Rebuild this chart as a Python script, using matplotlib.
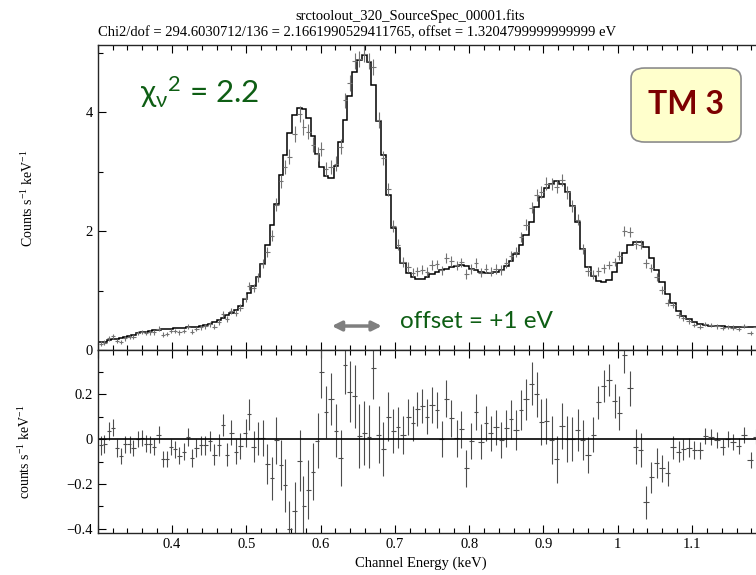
import numpy as np
import matplotlib
matplotlib.use("Agg")
import matplotlib.pyplot as plt
from matplotlib.ticker import MultipleLocator, FuncFormatter
from matplotlib.patches import FancyBboxPatch

# channel energies (keV) of the grouped spectrum
energy_kev = [
    0.304, 0.309, 0.315, 0.321, 0.326, 0.332, 0.337, 0.343, 0.348, 0.354,
    0.360, 0.365, 0.371, 0.376, 0.382, 0.388, 0.393, 0.399, 0.404, 0.410,
    0.416, 0.421, 0.427, 0.433, 0.439, 0.445, 0.451, 0.457, 0.463, 0.469,
    0.474, 0.480, 0.486, 0.492, 0.499, 0.504, 0.510, 0.516, 0.522, 0.528,
    0.535, 0.540, 0.547, 0.552, 0.558, 0.565, 0.572, 0.577, 0.583, 0.590,
    0.596, 0.601, 0.607, 0.614, 0.621, 0.627, 0.633, 0.639, 0.646, 0.652,
    0.659, 0.665, 0.671, 0.678, 0.684, 0.691, 0.698, 0.704, 0.711, 0.718,
    0.725, 0.730, 0.737, 0.743, 0.750, 0.757, 0.763, 0.769, 0.776, 0.783,
    0.789, 0.796, 0.803, 0.809, 0.816, 0.823, 0.829, 0.836, 0.843, 0.850,
    0.856, 0.863, 0.870, 0.876, 0.884, 0.891, 0.897, 0.904, 0.911, 0.918,
    0.925, 0.932, 0.939, 0.946, 0.953, 0.960, 0.967, 0.974, 0.981, 0.988,
    0.996, 1.002, 1.009, 1.017, 1.024, 1.031, 1.038, 1.045, 1.053, 1.059,
    1.067, 1.074, 1.082, 1.088, 1.096, 1.103, 1.111, 1.118, 1.126, 1.133,
    1.141, 1.148, 1.155, 1.163, 1.170, 1.179, 1.186, 1.193,
]

# folded model (counts s^-1 keV^-1)
model_counts = [
    0.13, 0.14, 0.16, 0.18, 0.19, 0.21, 0.22, 0.24, 0.26, 0.28,
    0.30, 0.31, 0.32, 0.33, 0.34, 0.35, 0.355, 0.36, 0.365, 0.37,
    0.375, 0.38, 0.39, 0.395, 0.41, 0.425, 0.44, 0.465, 0.50, 0.545,
    0.585, 0.625, 0.68, 0.74, 0.85, 0.96, 1.08, 1.22, 1.45, 1.76,
    2.10, 2.45, 2.95, 3.28, 3.65, 3.95, 4.07, 4.05, 3.90, 3.60,
    3.30, 3.08, 2.92, 2.90, 3.10, 3.50, 3.87, 4.28, 4.67, 4.88,
    4.96, 4.85, 4.45, 3.85, 3.28, 2.60, 2.05, 1.72, 1.46, 1.30,
    1.23, 1.19, 1.20, 1.22, 1.28, 1.31, 1.34, 1.37, 1.40, 1.42,
    1.43, 1.41, 1.37, 1.34, 1.31, 1.30, 1.29, 1.31, 1.35, 1.42,
    1.50, 1.61, 1.77, 1.93, 2.15, 2.40, 2.58, 2.72, 2.80, 2.84,
    2.80, 2.65, 2.42, 2.15, 1.70, 1.40, 1.25, 1.16, 1.14, 1.17,
    1.31, 1.47, 1.63, 1.76, 1.81, 1.82, 1.74, 1.55, 1.34, 1.14,
    0.95, 0.79, 0.65, 0.58, 0.52, 0.47, 0.44, 0.42, 0.41, 0.40,
    0.40, 0.39, 0.39, 0.38, 0.38, 0.38, 0.38, 0.38,
]

# data minus model
residuals = [
    -0.027, -0.020, 0.037, 0.050, -0.040, -0.075, -0.024, -0.024, -0.040, 0.000,
    0.006, -0.020, -0.024, -0.035, 0.020, -0.090, -0.090, -0.037, -0.045, -0.075,
    -0.056, 0.010, -0.083, -0.040, -0.027, -0.027, -0.010, -0.070, -0.027, 0.062,
    -0.070, 0.028, -0.056, -0.030, 0.025, 0.110, -0.034, 0.003, 0.003, -0.110,
    -0.175, -0.005, -0.115, -0.205, -0.400, -0.320, -0.096, -0.300, -0.225, -0.145,
    -0.007, 0.300, 0.120, 0.177, 0.037, -0.083, 0.330, 0.210, 0.190, 0.015,
    0.025, 0.010, 0.315, 0.020, -0.046, 0.100, 0.037, 0.052, 0.018, 0.100,
    0.070, 0.133, 0.147, 0.100, 0.150, 0.129, 0.000, 0.180, 0.092, 0.003,
    0.043, -0.130, -0.007, 0.120, -0.012, 0.070, 0.025, 0.052, -0.004, 0.047,
    0.087, 0.040, 0.129, 0.176, 0.247, 0.200, 0.077, 0.080, -0.004, -0.090,
    0.058, 0.000, 0.000, 0.040, -0.004, -0.071, 0.020, 0.163, 0.235, 0.262,
    0.169, 0.117, 0.373, 0.225, -0.034, -0.049, -0.281, -0.170, -0.108, -0.130,
    -0.153, -0.037, -0.056, -0.046, -0.039, -0.049, -0.049, 0.015, 0.010, -0.004,
    -0.034, 0.000, -0.012, -0.031, 0.018, -0.093, 0.010, -0.020,
]

# 1-sigma count-rate errors
errors = [
    0.042, 0.040, 0.040, 0.038, 0.038, 0.036, 0.038, 0.036, 0.036, 0.036,
    0.036, 0.036, 0.036, 0.036, 0.036, 0.036, 0.036, 0.036, 0.038, 0.038,
    0.038, 0.040, 0.040, 0.040, 0.042, 0.042, 0.044, 0.046, 0.048, 0.050,
    0.052, 0.055, 0.056, 0.058, 0.062, 0.068, 0.070, 0.075, 0.080, 0.088,
    0.095, 0.105, 0.110, 0.118, 0.125, 0.130, 0.135, 0.135, 0.132, 0.128,
    0.122, 0.118, 0.115, 0.115, 0.118, 0.125, 0.130, 0.135, 0.140, 0.142,
    0.142, 0.140, 0.135, 0.128, 0.120, 0.110, 0.098, 0.090, 0.085, 0.080,
    0.078, 0.076, 0.076, 0.078, 0.080, 0.080, 0.080, 0.082, 0.082, 0.082,
    0.082, 0.082, 0.080, 0.080, 0.078, 0.078, 0.078, 0.078, 0.080, 0.082,
    0.085, 0.088, 0.090, 0.092, 0.096, 0.100, 0.102, 0.104, 0.105, 0.105,
    0.104, 0.102, 0.098, 0.094, 0.088, 0.082, 0.078, 0.074, 0.072, 0.072,
    0.074, 0.076, 0.078, 0.078, 0.078, 0.076, 0.074, 0.070, 0.066, 0.060,
    0.056, 0.052, 0.048, 0.045, 0.042, 0.040, 0.038, 0.036, 0.036, 0.035,
    0.035, 0.035, 0.035, 0.034, 0.034, 0.034, 0.034, 0.034,
]

title_file = "srctoolout_320_SourceSpec_00001.fits"
title_fit = ("Chi2/dof = 294.6030712/136 = 2.1661990529411765, "
             "offset = 1.3204799999999999 eV")

SERIF = "Liberation Serif"
GREEN = "#0e5e14"


def energy_label(v, pos):
    # frame edges (0.3 and 1.2 keV) stay unlabelled
    if v < 0.35 or v > 1.15:
        return ""
    return f"{v:g}"


def resid_label(v, pos):
    if abs(v) < 1e-9:
        return "0"
    return f"{v:.1f}".replace("-", "\u2212")


def style_axis(ax):
    """PGPLOT-like frame: inward ticks on both horizontal edges."""
    ax.tick_params(which="both", direction="in", top=True, right=False,
                   colors="black", labelsize=10.5, width=0.8)
    ax.tick_params(which="major", length=6)
    ax.tick_params(which="minor", length=3.5)
    for side in ("left", "top", "bottom"):
        ax.spines[side].set_linewidth(1.0)
        ax.spines[side].set_color("0.15")
    ax.spines["right"].set_visible(False)
    ax.xaxis.set_major_locator(MultipleLocator(0.1))
    ax.xaxis.set_minor_locator(MultipleLocator(0.02))
    ax.xaxis.set_major_formatter(FuncFormatter(energy_label))
    for lab in ax.get_xticklabels() + ax.get_yticklabels():
        lab.set_fontfamily(SERIF)


e = np.array(energy_kev)
model = np.array(model_counts)
resid = np.array(residuals)
err = np.array(errors)
counts = model + resid

# bin edges halfway between channel centres
mid = (e[1:] + e[:-1]) / 2
edges = np.concatenate([[2 * e[0] - mid[0]], mid, [2 * e[-1] - mid[-1]]])
xerr = np.vstack([e - edges[:-1], edges[1:] - e])

fig = plt.figure(figsize=(7.56, 5.75), dpi=100)
ax_top = fig.add_axes([0.1292, 0.3913, 0.8845, 0.5304])
ax_res = fig.add_axes([0.1292, 0.0730, 0.8845, 0.3183], sharex=ax_top)

# spectrum + model
ax_top.errorbar(e, counts, xerr=xerr, yerr=err, fmt="none",
                ecolor="0.45", elinewidth=0.8)
ax_top.stairs(model, edges, baseline=None, color="black", lw=1.1)
ax_top.set_xlim(0.3, 1.2)
ax_top.set_ylim(0, 5.13)
ax_top.yaxis.set_major_locator(MultipleLocator(2))
ax_top.yaxis.set_minor_locator(MultipleLocator(1))
style_axis(ax_top)
ax_top.tick_params(labelbottom=False)

# residuals
ax_res.errorbar(e, resid, xerr=xerr, yerr=err, fmt="none",
                ecolor="0.3", elinewidth=0.8)
ax_res.axhline(0, color="black", lw=1.2)
ax_res.set_ylim(-0.418, 0.396)
ax_res.yaxis.set_major_locator(MultipleLocator(0.2))
ax_res.yaxis.set_minor_locator(MultipleLocator(0.1))
ax_res.yaxis.set_major_formatter(FuncFormatter(resid_label))
style_axis(ax_res)

# labels
fig.text(0.542, 0.972, title_file, ha="center", va="center",
         family=SERIF, fontsize=10.5)
fig.text(0.1292, 0.943, title_fit, ha="left", va="center",
         family=SERIF, fontsize=10.5)
fig.text(0.556, 0.021, "Channel Energy (keV)", ha="center", va="center",
         family=SERIF, fontsize=10.5)
fig.text(0.037, 0.655, r"Counts s$^{\mathregular{-1}}$ keV$^{\mathregular{-1}}$",
         rotation=90, ha="center", va="center", family=SERIF, fontsize=10)
fig.text(0.033, 0.214, r"counts s$^{\mathregular{-1}}$ keV$^{\mathregular{-1}}$",
         rotation=90, ha="center", va="center", family=SERIF, fontsize=10)

# fit quality and shift notes
fig.text(0.185, 0.821, r"$\mathregular{\chi_\nu{}^2}$ = 2.2", ha="left",
         va="baseline", family="Lato", fontsize=22.5, color=GREEN)
fig.text(0.529, 0.430, "offset = +1 eV", ha="left", va="baseline",
         family="Lato", fontsize=17.5, color=GREEN)
fig.add_artist(plt.Annotation(
    "", xy=(0.505, 0.433), xytext=(0.439, 0.433),
    xycoords="figure fraction", textcoords="figure fraction",
    arrowprops=dict(arrowstyle="<|-|>", color="#7f7f7f", lw=2.5,
                    mutation_scale=14, shrinkA=0, shrinkB=0)))

# detector tag
box = FancyBboxPatch((0.8347, 0.7530), 0.1455, 0.1287,
                     boxstyle="round,pad=0,rounding_size=0.018",
                     transform=fig.transFigure, facecolor="#ffffcc",
                     edgecolor="#8c8c8c", lw=1.2)
fig.add_artist(box)
fig.text(0.9074, 0.8174, "TM 3", ha="center", va="center", family="Lato",
         fontweight="bold", fontsize=23, color="#7d0000")

fig.savefig("out.png", dpi=100)
